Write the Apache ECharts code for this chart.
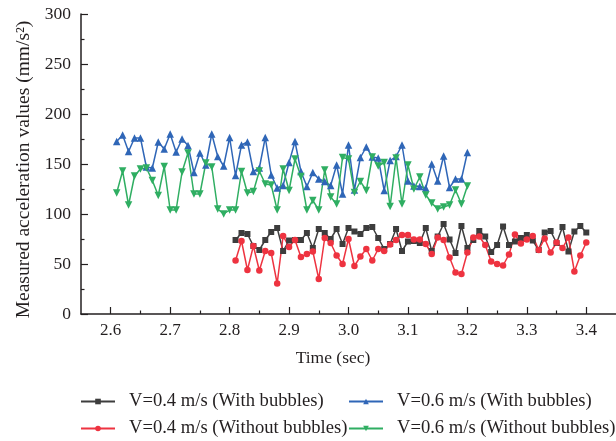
<!DOCTYPE html>
<html>
<head>
<meta charset="utf-8">
<script src="https://cdn.jsdelivr.net/npm/echarts@6/dist/echarts.min.js"></script>
<style>
  html, body { margin: 0; padding: 0; background: #fff; }
  #chart { width: 616px; height: 441px; }
</style>
</head>
<body>
<div id="chart"></div>
<script>
  // time stamps (sec)
  var timeLate = [2.81, 2.82, 2.83, 2.84, 2.85, 2.86, 2.87, 2.88, 2.89, 2.90,
    2.91, 2.92, 2.93, 2.94, 2.95, 2.96, 2.97, 2.98, 2.99, 3.00,
    3.01, 3.02, 3.03, 3.04, 3.05, 3.06, 3.07, 3.08, 3.09, 3.10,
    3.11, 3.12, 3.13, 3.14, 3.15, 3.16, 3.17, 3.18, 3.19, 3.20,
    3.21, 3.22, 3.23, 3.24, 3.25, 3.26, 3.27, 3.28, 3.29, 3.30,
    3.31, 3.32, 3.33, 3.34, 3.35, 3.36, 3.37, 3.38, 3.39, 3.40];
  var timeEarly = [2.61, 2.62, 2.63, 2.64, 2.65, 2.66, 2.67, 2.68, 2.69, 2.70,
    2.71, 2.72, 2.73, 2.74, 2.75, 2.76, 2.77, 2.78, 2.79, 2.80,
    2.81, 2.82, 2.83, 2.84, 2.85, 2.86, 2.87, 2.88, 2.89, 2.90,
    2.91, 2.92, 2.93, 2.94, 2.95, 2.96, 2.97, 2.98, 2.99, 3.00,
    3.01, 3.02, 3.03, 3.04, 3.05, 3.06, 3.07, 3.08, 3.09, 3.10,
    3.11, 3.12, 3.13, 3.14, 3.15, 3.16, 3.17, 3.18, 3.19, 3.20];

  // V=0.4 m/s, with bubbles
  var v04With = [74, 81, 80, 68, 64, 74, 82, 86, 63, 73.5,
    74, 74, 81, 66, 85, 81, 75, 85, 70, 86,
    82.5, 80, 86, 87, 76, 65, 70, 85, 63, 72.5,
    73, 71, 86, 63, 77.5, 90, 74.5, 61, 88, 66,
    74, 83, 77.5, 62, 69, 87.5, 69, 72.5, 76, 79,
    73.5, 64, 81.5, 83, 71, 87, 62.5, 82.5, 88, 81.5];
  // V=0.4 m/s, without bubbles
  var v04Without = [53.5, 73, 44, 68, 43.5, 63, 61, 30.5, 78, 67,
    74, 57, 60, 62.5, 35, 76, 71, 58.5, 50, 75,
    48, 57.5, 65, 53.5, 65, 63, 69.5, 74, 79, 79,
    74.5, 74.5, 70, 60, 76.5, 74, 56.5, 41.5, 40, 61.5,
    76.5, 77.5, 69, 52.5, 50, 48.5, 59.5, 79.5, 70.5, 74.5,
    78, 64, 75.5, 61.5, 71.5, 66, 76.5, 42.5, 58.5, 71.5];
  // V=0.6 m/s, with bubbles
  var v06With = [172.5, 179, 162.5, 176, 176, 147, 146, 172, 165, 180,
    162, 175, 168.5, 141.5, 161, 149, 180, 157.5, 148, 176.5,
    138.5, 169, 172, 142.5, 146, 176.5, 139, 126, 128.5, 151.5,
    172.5, 142.5, 127.5, 141.5, 135, 132.5, 128.5, 149, 120, 169,
    124, 156.5, 167, 157, 156, 123.5, 153.5, 157.5, 169, 133,
    128, 127.5, 126, 150, 133, 158, 126.5, 135, 135, 161.5];
  // V=0.6 m/s, without bubbles
  var v06Without = [121, 143, 109, 138, 145, 146, 133.5, 118.5, 147.5, 104,
    104, 142, 161, 120, 120, 151, 147, 105, 100, 104,
    104, 142.5, 121, 122.5, 143, 130, 129, 104, 145, 123.5,
    155, 137.5, 104, 113.5, 104, 144, 117, 110, 156.5, 155,
    121.5, 132.5, 123.5, 157, 148, 151.5, 107.5, 156, 110, 149,
    125, 137, 119, 111, 105, 107, 109, 124, 110, 128];

  var xMajorTicks = [2.6, 2.7, 2.8, 2.9, 3.0, 3.1, 3.2, 3.3, 3.4];
  var xMinorTicks = [2.65, 2.75, 2.85, 2.95, 3.05, 3.15, 3.25, 3.35];
  var seriesNames = ['V=0.4 m/s (With bubbles)', 'V=0.6 m/s (With bubbles)',
    'V=0.4 m/s (Without bubbles)', 'V=0.6 m/s (Without bubbles)'];

  function pairs(xs, ys) {
    return xs.map(function (x, i) { return [x, ys[i]]; });
  }

  var serif = 'Liberation Serif';
  var ink = '#231f20';

  // one legend per entry so the two columns line up like the figure
  function legendAt(name, left, top) {
    return {
      left: left, top: top, orient: 'horizontal', padding: 0,
      itemWidth: 34, itemHeight: 7,
      textStyle: { fontFamily: serif, fontSize: 18.6, color: ink, padding: [0, 0, 0, 9] },
      data: [name]
    };
  }

  var chart = echarts.init(document.getElementById('chart'));
  chart.setOption({
    animation: false,
    textStyle: { fontFamily: serif, color: ink },
    grid: { left: 81, right: -4, top: 14, bottom: 127 },
    legend: [
      legendAt(seriesNames[0], 80, 392),
      legendAt(seriesNames[1], 348, 392),
      legendAt(seriesNames[2], 80, 419),
      legendAt(seriesNames[3], 348, 419)
    ],
    xAxis: [
      {
        type: 'value', min: 2.55, max: 3.45,
        name: 'Time (sec)', nameLocation: 'middle', nameGap: 35,
        nameTextStyle: { fontFamily: serif, fontSize: 17.5, color: ink, padding: [0, 31, 0, 0] },
        axisLine: { lineStyle: { color: ink, width: 1.5 } },
        axisTick: { inside: true, length: 7, lineStyle: { color: ink, width: 1.2 }, customValues: xMajorTicks },
        axisLabel: { fontFamily: serif, fontSize: 17, color: ink, margin: 8, customValues: xMajorTicks,
          formatter: function (v) { return v.toFixed(1); } },
        splitLine: { show: false }
      },
      {
        type: 'value', min: 2.55, max: 3.45, position: 'bottom',
        axisLine: { show: false },
        axisTick: { inside: true, length: 3.5, lineStyle: { color: ink, width: 1.2 }, customValues: xMinorTicks },
        axisLabel: { show: false },
        splitLine: { show: false }
      }
    ],
    yAxis: {
      type: 'value', min: 0, max: 300, interval: 50,
      name: 'Measured acceleration values (mm/s²)', nameLocation: 'middle', nameGap: 47,
      nameTextStyle: { fontFamily: serif, fontSize: 19.5, color: ink, padding: [0, 11, 0, 0] },
      axisLine: { show: true, lineStyle: { color: ink, width: 1.5 } },
      axisTick: { show: true, inside: true, length: 7, lineStyle: { color: ink, width: 1.2 } },
      minorTick: { show: true, splitNumber: 2, length: 3.5, lineStyle: { color: ink, width: 1.2 } },
      axisLabel: { fontFamily: serif, fontSize: 17.5, color: ink, margin: 10 },
      splitLine: { show: false }
    },
    series: [
      {
        name: seriesNames[0], type: 'line', data: pairs(timeLate, v04With),
        symbol: 'rect', symbolSize: 6,
        lineStyle: { color: '#3d3d3d', width: 1.5 }, itemStyle: { color: '#3d3d3d' }
      },
      {
        name: seriesNames[2], type: 'line', data: pairs(timeLate, v04Without),
        symbol: 'circle', symbolSize: 6.5,
        lineStyle: { color: '#ee3340', width: 1.5 }, itemStyle: { color: '#ee3340' }
      },
      {
        name: seriesNames[1], type: 'line', data: pairs(timeEarly, v06With),
        symbol: 'triangle', symbolSize: 7.5,
        lineStyle: { color: '#2f66b7', width: 1.5 }, itemStyle: { color: '#2f66b7' }
      },
      {
        name: seriesNames[3], type: 'line', data: pairs(timeEarly, v06Without),
        symbol: 'triangle', symbolRotate: 180, symbolSize: 7.5,
        lineStyle: { color: '#2fae62', width: 1.5 }, itemStyle: { color: '#2fae62' }
      }
    ]
  });
</script>
</body>
</html>
